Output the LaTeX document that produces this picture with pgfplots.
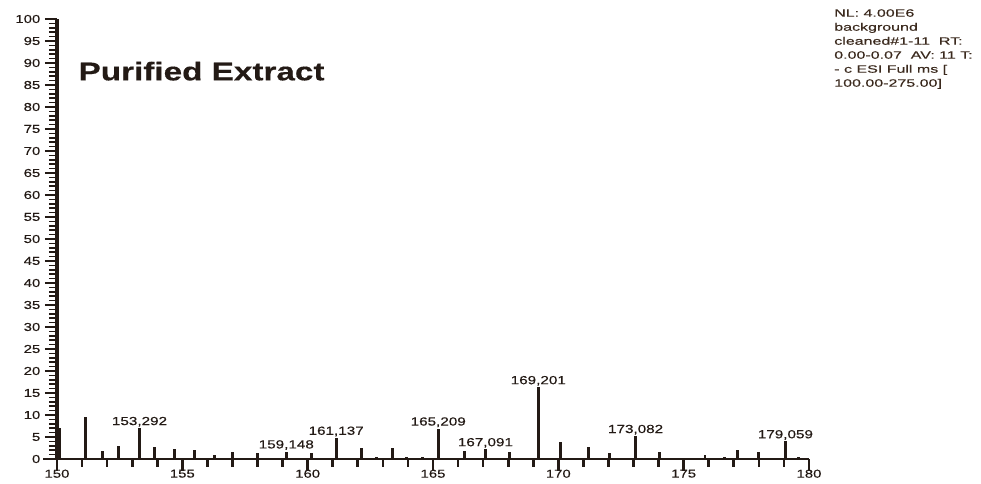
\documentclass[border=0pt]{standalone}
\usepackage{fontspec}
\setmainfont{Liberation Sans}[FakeStretch=1.3, FakeBold=0.4]
\newfontfamily\boxfont{Liberation Sans}[FakeStretch=1.5, FakeBold=0.4]
\usepackage{pgfplots}
\pgfplotsset{compat=1.18}
\usepackage{pgfplotstable}
\definecolor{ink}{HTML}{231A15}
\definecolor{boxtext}{HTML}{3B2A1E}

% all peaks (m/z, relative abundance)
\pgfplotstableread{
x y
150.10 7.0
151.15 9.6
151.80 1.8
152.45 3.0
153.292 7.0
153.90 2.7
154.70 2.3
155.50 2.0
156.30 0.9
157.00 1.6
158.00 1.4
159.148 1.7
160.16 1.3
161.137 4.8
162.15 2.5
162.76 0.4
163.37 2.5
163.96 0.4
164.57 0.4
165.209 6.9
166.26 1.9
167.091 2.2
168.06 1.7
169.201 16.3
170.10 3.8
171.20 2.8
172.05 1.3
173.082 5.2
174.05 1.7
175.85 1.0
176.64 0.4
177.15 2.1
178.00 1.6
179.059 4.0
179.57 0.4
}\peaks

% labelled peaks
\pgfplotstableread{
x y lab
153.292 7.0 153,292
159.148 1.7 159,148
161.137 4.8 161,137
165.209 6.9 165,209
167.091 2.2 167,091
169.201 16.3 169,201
173.082 5.2 173,082
179.059 4.0 179,059
}\labelled

\begin{document}
\begin{tikzpicture}
\path[use as bounding box] (-42.75pt,-18.75pt) rectangle (693pt,344.25pt);
\begin{axis}[
  at={(0,0)}, anchor=south west,
  scale only axis,
  width=564pt, height=330pt,
  xmin=150, xmax=180, ymin=0, ymax=100,
  axis lines*=left,
  x axis line style={line width=2.1pt, color=ink},
  y axis line style={line width=3.6pt, color=ink},
  xtick distance=5, minor x tick num=4,
  ytick distance=5, minor y tick num=4,
  tick align=outside,
  major tick length=9pt, minor tick length=6pt,
  every tick/.style={color=ink, line width=1.3pt},
  x tick style={line width=2pt},
  y tick style={line width=1.2pt},
  tick label style={font=\fontsize{8.6}{10}\selectfont, color=ink},
  xticklabel style={yshift=2.2pt, inner sep=1pt},
  /pgf/number format/assume math mode=true,
  clip=false,
]
\addplot[ycomb, line width=2.2pt, color=ink, no markers] table[x=x, y=y] {\peaks};
\addplot[only marks, mark=none, point meta=explicit symbolic,
  nodes near coords,
  nodes near coords style={font=\fontsize{8.8}{10}\selectfont, color=ink, anchor=south, inner sep=1pt}]
  table[x=x, y=y, meta=lab] {\labelled};
\draw[line width=2.1pt, color=ink] (axis cs:149.45,0) -- (axis cs:150,0);
\end{axis}
\node[anchor=base west, font=\bfseries\fontsize{19.2}{23}\selectfont, color=ink, inner sep=0pt] at (16pt,284pt) {Purified Extract};
\node[anchor=north west, align=left, font=\boxfont\fontsize{8}{10.5}\selectfont, color=boxtext, inner sep=0pt] at (582.75pt,337.5pt)
  {NL: 4.00E6\\background\\cleaned\#1-11\ \ RT:\\0.00-0.07\ \ AV: 11 T:\\- c ESI Full ms [\\100.00-275.00]};
\end{tikzpicture}
\end{document}
